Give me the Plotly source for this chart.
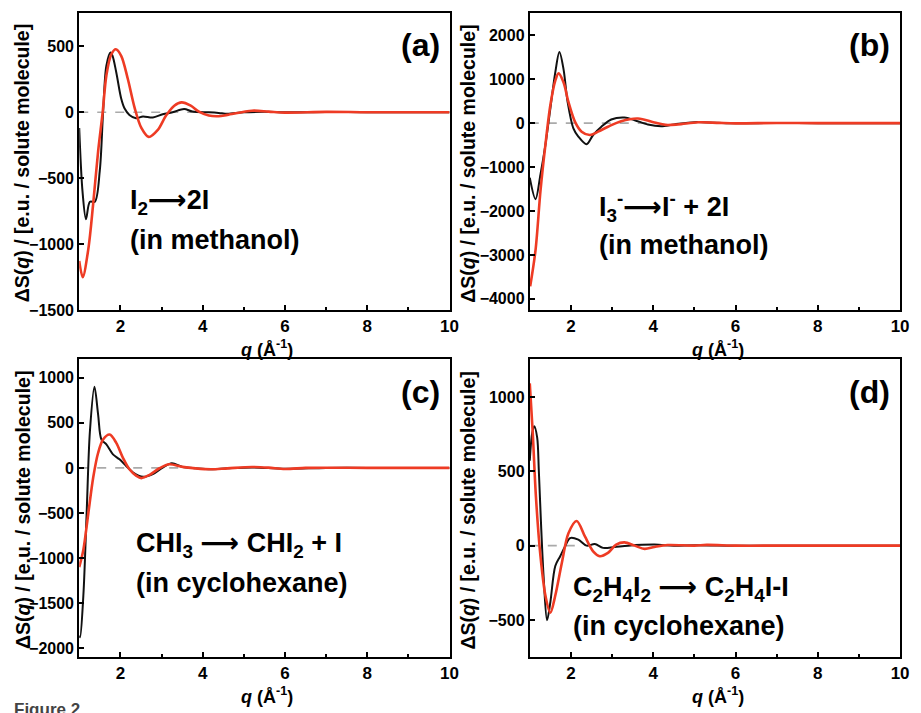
import plotly.graph_objects as go

# ---------------- data ----------------
# (a) I2 -> 2I in methanol
qa_exp = [1.00, 1.08, 1.165, 1.26, 1.38, 1.50, 1.58, 1.66, 1.76, 1.81, 1.90, 2.02, 2.10, 2.22, 2.38, 2.55, 2.79, 3.03, 3.27, 3.55, 3.75, 4.15, 4.39, 4.60, 5.0, 5.5, 6.0, 7.0, 8.0, 9.0, 10.0]
sa_exp = [-120, -600, -811, -679, -679, -443, 0, 353, 453, 428, 303, 104, 30, -20, -45, -32, -40, -15, 0, 25, 5, 0, -5, -12, 0, 3, 0, 2, 0, 0, 0]
qa_th = [1.00, 1.085, 1.22, 1.34, 1.46, 1.57, 1.66, 1.78, 1.89, 2.02, 2.18, 2.35, 2.51, 2.69, 2.91, 3.11, 3.31, 3.49, 3.71, 3.91, 4.15, 4.39, 4.60, 5.2, 5.6, 6.0, 7.0, 8.0, 9.0, 10.0]
sa_th = [-1127, -1251, -1040, -692, -294, 0, 279, 440, 478, 428, 254, 30, -119, -187, -134, -25, 50, 75, 50, 5, -25, -30, -20, 12, 5, -3, 3, 0, 0, 0]

# (b) I3- -> I- + 2I in methanol
qb_exp = [1.00, 1.14, 1.26, 1.38, 1.50, 1.62, 1.72, 1.82, 1.92, 2.06, 2.18, 2.38, 2.54, 2.74, 2.98, 3.30, 3.55, 3.87, 4.19, 4.51, 5.0, 5.5, 6.0, 7.0, 8.0, 9.0, 10.0]
sb_exp = [-1243, -1730, -1168, -494, 330, 1155, 1618, 1229, 481, -119, -306, -479, -270, -82, 82, 127, 67, -30, -70, -30, 22, 10, -5, 5, 0, 0, 0]
qb_th = [1.01, 1.14, 1.26, 1.38, 1.50, 1.62, 1.70, 1.82, 1.94, 2.10, 2.26, 2.46, 2.66, 2.90, 3.22, 3.63, 4.03, 4.30, 4.60, 5.1, 5.6, 6.0, 7.0, 8.0, 9.0, 10.0]
sb_th = [-3715, -2890, -1541, -494, 405, 966, 1132, 930, 481, 30, -194, -270, -194, -82, 45, 105, 15, -40, -30, 20, 5, -5, 3, 0, 0, 0]

# (c) CHI3 -> CHI2 + I in cyclohexane
qc_exp = [1.00, 1.02, 1.10, 1.18, 1.26, 1.37, 1.46, 1.54, 1.66, 1.82, 1.98, 2.14, 2.31, 2.55, 2.79, 3.03, 3.25, 3.51, 3.83, 4.20, 4.60, 5.2, 6.0, 7.0, 8.0, 9.0, 10.0]
sc_exp = [-1860, -1877, -1421, -508, 406, 899, 589, 315, 260, 150, 95, 22, -51, -99, -69, 4, 51, 11, -4, -15, -5, 5, -10, 0, 0, 0, 0]
qc_th = [1.00, 1.10, 1.22, 1.34, 1.46, 1.58, 1.74, 1.90, 2.06, 2.22, 2.39, 2.51, 2.71, 2.95, 3.19, 3.51, 3.83, 4.20, 4.60, 5.2, 5.6, 6.0, 6.5, 7.0, 8.0, 9.0, 10.0]
sc_th = [-1100, -910, -508, -106, 168, 315, 370, 278, 114, -15, -88, -113, -77, -4, 40, 11, -5, -15, -5, 10, 3, -12, 0, 2, 0, 0, 0]

# (d) C2H4I2 -> C2H4I-I in cyclohexane
qd_exp = [1.00, 1.06, 1.11, 1.18, 1.22, 1.28, 1.34, 1.42, 1.50, 1.62, 1.74, 1.86, 1.98, 2.18, 2.38, 2.58, 2.78, 3.06, 3.39, 4.03, 4.5, 5.0, 6.0, 7.0, 8.0, 9.0, 10.0]
sd_exp = [571, 760, 804, 727, 505, 106, -226, -502, -381, -137, -71, -4, 51, 40, 0, 11, -15, -9, 0, 7, 0, 3, 0, 0, 0, 0, 0]
qd_th = [1.00, 1.07, 1.15, 1.26, 1.38, 1.50, 1.62, 1.78, 1.94, 2.14, 2.34, 2.54, 2.70, 2.90, 3.10, 3.30, 3.55, 3.79, 4.03, 4.35, 5.0, 5.3, 6.0, 7.0, 8.0, 9.0, 10.0]
sd_th = [1092, 770, 328, -71, -336, -451, -336, -115, 84, 166, 62, -38, -71, -49, 7, 22, 0, -22, -9, 4, 0, 5, 0, 0, 0, 0, 0]

ARROW = '<span style="font-family:DejaVu Sans;font-weight:bold">⟶</span>'
panel_letters = ["(a)", "(b)", "(c)", "(d)"]
reaction_lines = [
    ["I<sub>2</sub>" + ARROW + "2I", "(in methanol)"],
    ["I<sub>3</sub><sup>-</sup>" + ARROW + "I<sup>-</sup> + 2I", "(in methanol)"],
    ["CHI<sub>3</sub> " + ARROW + " CHI<sub>2</sub> + I", "(in cyclohexane)"],
    ["C<sub>2</sub>H<sub>4</sub>I<sub>2</sub> " + ARROW + " C<sub>2</sub>H<sub>4</sub>I-I", "(in cyclohexane)"],
]
y_ranges = [[-1500, 754], [-4254, 2510], [-2098, 1203], [-750, 1253]]
y_ticks = [[-1500, -1000, -500, 0, 500],
           [-4000, -3000, -2000, -1000, 0, 1000, 2000],
           [-2000, -1500, -1000, -500, 0, 500, 1000],
           [-500, 0, 500, 1000]]
x_ticks = [2, 4, 6, 8, 10]
x_minor = [3, 5, 7, 9]

series = [(qa_exp, sa_exp, qa_th, sa_th), (qb_exp, sb_exp, qb_th, sb_th),
          (qc_exp, sc_exp, qc_th, sc_th), (qd_exp, sd_exp, qd_th, sd_th)]

# ---------------- layout geometry ----------------
W, H = 921, 713
def px_x(p):
    return p / W
def px_y(p):
    return 1 - p / H

x_dom = [[px_x(80), px_x(454)], [px_x(535), px_x(909)]]
y_dom = [[px_y(314), px_y(13)], [px_y(665.5), px_y(364)]]
zero_end = [4.0, 4.0, 4.0, 2.1]

FONT = "Liberation Sans, Arial, sans-serif"
BLACK = "#111111"
RED = "#EE3B24"

fig = go.Figure()
layout = dict(width=W, height=H, margin=dict(l=0, r=0, t=0, b=0),
              paper_bgcolor="white", plot_bgcolor="white", showlegend=False,
              font=dict(family=FONT, color="black"))
annotations = []
shapes = []

for i in range(4):
    row, col = divmod(i, 2)
    xa = "xaxis" if i == 0 else f"xaxis{i+1}"
    ya = "yaxis" if i == 0 else f"yaxis{i+1}"
    xr = "x" if i == 0 else f"x{i+1}"
    yr = "y" if i == 0 else f"y{i+1}"
    qe, se, qt, st = series[i]

    shapes.append(dict(type="line", xref=xr, yref=yr, x0=1, x1=zero_end[i], y0=0, y1=0,
                       line=dict(color="#AAAAAA", width=1.6, dash="dash"), layer="below"))

    fig.add_trace(go.Scatter(x=qe, y=se, mode="lines", xaxis=xr, yaxis=yr,
                             line=dict(color=BLACK, width=2, shape="spline", smoothing=0.9)))
    fig.add_trace(go.Scatter(x=qt, y=st, mode="lines", xaxis=xr, yaxis=yr,
                             line=dict(color=RED, width=2.6, shape="spline", smoothing=0.9)))

    layout[xa] = dict(domain=x_dom[col], anchor=yr, range=[1, 10], tickvals=x_ticks,
                      ticks="inside", ticklen=5, tickwidth=1.5, tickcolor="black",
                      minor=dict(tickvals=x_minor, ticks="inside", ticklen=3, tickwidth=1.5, tickcolor="black"),
                      showline=True, linecolor="black", linewidth=2, mirror=True,
                      showgrid=False, zeroline=False,
                      tickfont=dict(family=FONT, size=17, color="black", weight="bold"))
    layout[ya] = dict(domain=y_dom[row], anchor=xr, range=y_ranges[i], tickvals=y_ticks[i],
                      ticks="inside", ticklen=5, tickwidth=1.5, tickcolor="black",
                      showline=True, linecolor="black", linewidth=2, mirror=True,
                      showgrid=False, zeroline=False,
                      tickfont=dict(family=FONT, size=16, color="black", weight="bold"))

    # axis titles
    xl, xrgt = (80, 454) if col == 0 else (535, 909)
    ytop, ybot = (13, 314) if row == 0 else (364, 665.5)
    annotations.append(dict(xref="paper", yref="paper", x=px_x((xl + xrgt) / 2 + 3),
                            y=px_y(ybot + 39), xanchor="center", yanchor="middle",
                            text="<b><i>q</i> (Å<sup>-1</sup>)</b>", showarrow=False,
                            font=dict(family=FONT, size=18, color="black")))
    annotations.append(dict(xref="paper", yref="paper", x=px_x(xl - 57 if col == 0 else xl - 62),
                            y=px_y((ytop + ybot) / 2 + 2), xanchor="center", yanchor="middle",
                            textangle=-90,
                            text="<b>ΔS(<i>q</i>) / [e.u. / solute molecule]</b>", showarrow=False,
                            font=dict(family=FONT, size=19.5, color="black")))
    # panel letters
    annotations.append(dict(xref="paper", yref="paper", x=px_x(xrgt - 8), y=px_y(ytop + 33),
                            xanchor="right", yanchor="middle", text=f"<b>{panel_letters[i]}</b>",
                            showarrow=False, font=dict(family=FONT, size=32, color="black")))

# reaction labels: left x, line1 y, line2 y (pixels)
label_pos = [(129, 204, 243), (603, 210, 248), (135, 551, 590), (577, 596, 634)]
for i, (lx, ly1, ly2) in enumerate(label_pos):
    for txt, ly in zip(reaction_lines[i], (ly1, ly2)):
        annotations.append(dict(xref="paper", yref="paper", x=px_x(lx), y=px_y(ly),
                                xanchor="left", yanchor="middle", text=f"<b>{txt}</b>",
                                showarrow=False, font=dict(family=FONT, size=27, color="black")))

# cropped caption at the very bottom
annotations.append(dict(xref="paper", yref="paper", x=px_x(12), y=px_y(707), xanchor="left",
                        yanchor="top", text="<b>Figure 2</b>", showarrow=False,
                        font=dict(family=FONT, size=17, color="#444444")))

layout["annotations"] = annotations
layout["shapes"] = shapes
fig.update_layout(**layout)
fig.write_html("out.html")
